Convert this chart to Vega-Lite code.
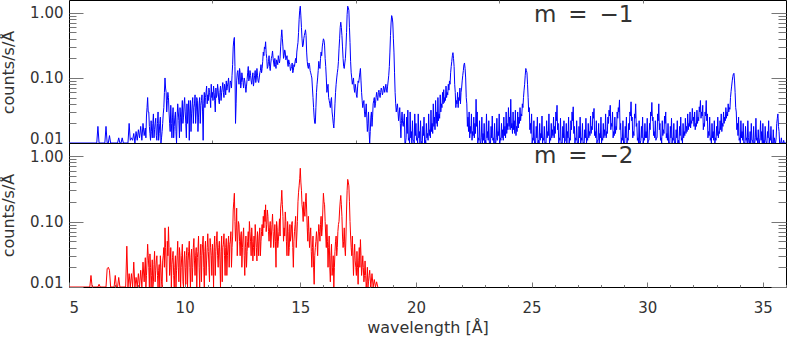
{
"$schema": "https://vega.github.io/schema/vega-lite/v6.json",
"autosize": {"type": "pad"},
"padding": {"left": -1, "top": -1, "right": 2, "bottom": 0},
"background": "white",
"config": {
  "view": {"stroke": "black", "strokeWidth": 1},
  "font": "DejaVu Sans",
  "axis": {"domain": false, "grid": false, "labelFont": "DejaVu Sans", "labelFontSize": 15, "labelColor": "#333", "tickColor": "#777", "tickWidth": 1, "titleFont": "DejaVu Sans", "titleFontSize": 16, "titleColor": "#333", "titleFontWeight": "normal"}
},
"datasets": {
"m1": [
{"wl":5,"c":0.01},{"wl":6.2,"c":0.01},{"wl":6.25,"c":0.018},{"wl":6.3,"c":0.01},{"wl":6.55,"c":0.01},{"wl":6.6,"c":0.018},{"wl":6.65,"c":0.01},{"wl":6.7,"c":0.01},{"wl":6.75,"c":0.013},{"wl":6.8,"c":0.01},{"wl":7.1,"c":0.01},{"wl":7.15,"c":0.012},{"wl":7.2,"c":0.01},{"wl":7.25,"c":0.01},{"wl":7.3,"c":0.012},{"wl":7.35,"c":0.01},{"wl":7.55,"c":0.01},
{"wl":7.6,"c":0.02},{"wl":7.65,"c":0.011},{"wl":7.7,"c":0.012},{"wl":7.75,"c":0.011},{"wl":7.8,"c":0.014},{"wl":7.85,"c":0.01},{"wl":7.9,"c":0.015},{"wl":7.95,"c":0.011},{"wl":8,"c":0.016},{"wl":8.05,"c":0.012},{"wl":8.1,"c":0.018},{"wl":8.15,"c":0.011},{"wl":8.2,"c":0.02},{"wl":8.25,"c":0.013},{"wl":8.3,"c":0.017},{"wl":8.35,"c":0.026},{"wl":8.4,"c":0.05},{"wl":8.45,"c":0.03},{"wl":8.5,"c":0.014},{"wl":8.55,"c":0.022},{"wl":8.6,"c":0.012},{"wl":8.65,"c":0.028},{"wl":8.7,"c":0.016},{"wl":8.75,"c":0.024},{"wl":8.8,"c":0.011},{"wl":8.85,"c":0.03},{"wl":8.9,"c":0.014},{"wl":8.95,"c":0.025},
{"wl":9,"c":0.012},{"wl":9.05,"c":0.02},{"wl":9.1,"c":0.035},{"wl":9.15,"c":0.1},{"wl":9.2,"c":0.06},{"wl":9.25,"c":0.045},{"wl":9.3,"c":0.05},{"wl":9.35,"c":0.02},{"wl":9.4,"c":0.038},{"wl":9.45,"c":0.012},{"wl":9.5,"c":0.035},{"wl":9.55,"c":0.018},{"wl":9.6,"c":0.03},{"wl":9.65,"c":0.01},{"wl":9.7,"c":0.04},{"wl":9.75,"c":0.022},{"wl":9.8,"c":0.035},{"wl":9.85,"c":0.015},{"wl":9.9,"c":0.045},{"wl":9.95,"c":0.025},
{"wl":10,"c":0.05},{"wl":10.05,"c":0.02},{"wl":10.1,"c":0.04},{"wl":10.15,"c":0.03},{"wl":10.2,"c":0.011},{"wl":10.25,"c":0.045},{"wl":10.3,"c":0.028},{"wl":10.35,"c":0.05},{"wl":10.4,"c":0.035},{"wl":10.45,"c":0.055},{"wl":10.5,"c":0.03},{"wl":10.55,"c":0.045},{"wl":10.6,"c":0.025},{"wl":10.65,"c":0.05},{"wl":10.7,"c":0.038},{"wl":10.75,"c":0.055},{"wl":10.8,"c":0.011},{"wl":10.85,"c":0.06},{"wl":10.9,"c":0.05},{"wl":10.95,"c":0.075},
{"wl":11,"c":0.055},{"wl":11.05,"c":0.07},{"wl":11.1,"c":0.05},{"wl":11.15,"c":0.08},{"wl":11.2,"c":0.06},{"wl":11.25,"c":0.075},{"wl":11.3,"c":0.045},{"wl":11.35,"c":0.07},{"wl":11.4,"c":0.055},{"wl":11.45,"c":0.065},{"wl":11.5,"c":0.04},{"wl":11.55,"c":0.075},{"wl":11.6,"c":0.06},{"wl":11.65,"c":0.085},{"wl":11.7,"c":0.05},{"wl":11.75,"c":0.07},{"wl":11.8,"c":0.09},{"wl":11.85,"c":0.075},{"wl":11.9,"c":0.1},{"wl":11.95,"c":0.07},
{"wl":12,"c":0.085},{"wl":12.05,"c":0.11},{"wl":12.1,"c":0.3},{"wl":12.15,"c":0.42},{"wl":12.2,"c":0.02},{"wl":12.25,"c":0.09},{"wl":12.3,"c":0.13},{"wl":12.35,"c":0.08},{"wl":12.4,"c":0.12},{"wl":12.45,"c":0.085},{"wl":12.5,"c":0.1},{"wl":12.55,"c":0.07},{"wl":12.6,"c":0.09},{"wl":12.65,"c":0.06},{"wl":12.7,"c":0.095},{"wl":12.75,"c":0.15},{"wl":12.8,"c":0.1},{"wl":12.85,"c":0.11},{"wl":12.9,"c":0.08},{"wl":12.95,"c":0.12},
{"wl":13,"c":0.09},{"wl":13.05,"c":0.13},{"wl":13.1,"c":0.1},{"wl":13.15,"c":0.11},{"wl":13.2,"c":0.085},{"wl":13.25,"c":0.12},{"wl":13.3,"c":0.16},{"wl":13.35,"c":0.14},{"wl":13.4,"c":0.25},{"wl":13.45,"c":0.3},{"wl":13.5,"c":0.36},{"wl":13.55,"c":0.2},{"wl":13.6,"c":0.15},{"wl":13.65,"c":0.22},{"wl":13.7,"c":0.13},{"wl":13.75,"c":0.2},{"wl":13.8,"c":0.26},{"wl":13.85,"c":0.17},{"wl":13.9,"c":0.2},{"wl":13.95,"c":0.14},
{"wl":14,"c":0.18},{"wl":14.05,"c":0.22},{"wl":14.1,"c":0.17},{"wl":14.15,"c":0.3},{"wl":14.2,"c":0.55},{"wl":14.25,"c":0.3},{"wl":14.3,"c":0.22},{"wl":14.35,"c":0.25},{"wl":14.4,"c":0.2},{"wl":14.45,"c":0.17},{"wl":14.5,"c":0.19},{"wl":14.55,"c":0.16},{"wl":14.6,"c":0.14},{"wl":14.65,"c":0.17},{"wl":14.7,"c":0.13},{"wl":14.75,"c":0.15},{"wl":14.8,"c":0.2},{"wl":14.85,"c":0.25},{"wl":14.9,"c":0.35},{"wl":14.95,"c":0.8},
{"wl":15,"c":1.27},{"wl":15.05,"c":0.6},{"wl":15.1,"c":0.3},{"wl":15.15,"c":0.4},{"wl":15.2,"c":0.5},{"wl":15.25,"c":0.45},{"wl":15.3,"c":0.18},{"wl":15.35,"c":0.14},{"wl":15.4,"c":0.16},{"wl":15.45,"c":0.12},{"wl":15.5,"c":0.1},{"wl":15.55,"c":0.05},{"wl":15.6,"c":0.025},{"wl":15.65,"c":0.02},{"wl":15.7,"c":0.06},{"wl":15.75,"c":0.1},{"wl":15.8,"c":0.18},{"wl":15.85,"c":0.14},{"wl":15.9,"c":0.25},{"wl":15.95,"c":0.3},
{"wl":16,"c":0.4},{"wl":16.05,"c":0.32},{"wl":16.1,"c":0.15},{"wl":16.15,"c":0.06},{"wl":16.2,"c":0.08},{"wl":16.25,"c":0.045},{"wl":16.3,"c":0.035},{"wl":16.35,"c":0.05},{"wl":16.4,"c":0.025},{"wl":16.45,"c":0.017},{"wl":16.5,"c":0.04},{"wl":16.55,"c":0.08},{"wl":16.6,"c":0.12},{"wl":16.65,"c":0.18},{"wl":16.7,"c":0.4},{"wl":16.75,"c":0.72},{"wl":16.8,"c":0.45},{"wl":16.85,"c":0.2},{"wl":16.9,"c":0.14},{"wl":16.95,"c":0.2},
{"wl":17,"c":0.5},{"wl":17.05,"c":1.27},{"wl":17.1,"c":1.1},{"wl":17.15,"c":0.35},{"wl":17.2,"c":0.12},{"wl":17.25,"c":0.08},{"wl":17.3,"c":0.1},{"wl":17.35,"c":0.06},{"wl":17.4,"c":0.07},{"wl":17.45,"c":0.05},{"wl":17.5,"c":0.09},{"wl":17.55,"c":0.1},{"wl":17.6,"c":0.14},{"wl":17.65,"c":0.06},{"wl":17.7,"c":0.035},{"wl":17.75,"c":0.045},{"wl":17.8,"c":0.025},{"wl":17.85,"c":0.04},{"wl":17.9,"c":0.015},{"wl":17.95,"c":0.03},
{"wl":18,"c":0.01},{"wl":18.05,"c":0.025},{"wl":18.1,"c":0.018},{"wl":18.15,"c":0.04},{"wl":18.2,"c":0.05},{"wl":18.25,"c":0.04},{"wl":18.3,"c":0.06},{"wl":18.35,"c":0.045},{"wl":18.4,"c":0.065},{"wl":18.45,"c":0.05},{"wl":18.5,"c":0.07},{"wl":18.55,"c":0.055},{"wl":18.6,"c":0.075},{"wl":18.65,"c":0.06},{"wl":18.7,"c":0.08},{"wl":18.75,"c":0.06},{"wl":18.8,"c":0.09},{"wl":18.85,"c":0.15},{"wl":18.9,"c":0.45},{"wl":18.95,"c":0.91},
{"wl":19,"c":0.7},{"wl":19.05,"c":0.25},{"wl":19.1,"c":0.06},{"wl":19.15,"c":0.03},{"wl":19.2,"c":0.04},{"wl":19.25,"c":0.022},{"wl":19.3,"c":0.035},{"wl":19.35,"c":0.012},{"wl":19.4,"c":0.03},{"wl":19.45,"c":0.018},{"wl":19.5,"c":0.028},{"wl":19.55,"c":0.01},{"wl":19.6,"c":0.025},{"wl":19.65,"c":0.032},{"wl":19.7,"c":0.012},{"wl":19.75,"c":0.03},{"wl":19.8,"c":0.015},{"wl":19.85,"c":0.022},{"wl":19.9,"c":0.011},{"wl":19.95,"c":0.028},
{"wl":20,"c":0.02},{"wl":20.05,"c":0.012},{"wl":20.1,"c":0.028},{"wl":20.15,"c":0.015},{"wl":20.2,"c":0.022},{"wl":20.25,"c":0.01},{"wl":20.3,"c":0.018},{"wl":20.35,"c":0.025},{"wl":20.4,"c":0.011},{"wl":20.45,"c":0.02},{"wl":20.5,"c":0.014},{"wl":20.55,"c":0.028},{"wl":20.6,"c":0.016},{"wl":20.65,"c":0.032},{"wl":20.7,"c":0.02},{"wl":20.75,"c":0.04},{"wl":20.8,"c":0.025},{"wl":20.85,"c":0.045},{"wl":20.9,"c":0.03},{"wl":20.95,"c":0.05},
{"wl":21,"c":0.028},{"wl":21.05,"c":0.055},{"wl":21.1,"c":0.04},{"wl":21.15,"c":0.06},{"wl":21.2,"c":0.066},{"wl":21.25,"c":0.05},{"wl":21.3,"c":0.075},{"wl":21.35,"c":0.06},{"wl":21.4,"c":0.08},{"wl":21.45,"c":0.09},{"wl":21.5,"c":0.12},{"wl":21.55,"c":0.18},{"wl":21.6,"c":0.245},{"wl":21.65,"c":0.15},{"wl":21.7,"c":0.06},{"wl":21.75,"c":0.045},{"wl":21.8,"c":0.06},{"wl":21.85,"c":0.05},{"wl":21.9,"c":0.07},{"wl":21.95,"c":0.06},
{"wl":22,"c":0.09},{"wl":22.05,"c":0.13},{"wl":22.1,"c":0.17},{"wl":22.15,"c":0.1},{"wl":22.2,"c":0.04},{"wl":22.25,"c":0.025},{"wl":22.3,"c":0.03},{"wl":22.35,"c":0.018},{"wl":22.4,"c":0.028},{"wl":22.45,"c":0.015},{"wl":22.5,"c":0.025},{"wl":22.55,"c":0.02},{"wl":22.6,"c":0.047},{"wl":22.65,"c":0.03},{"wl":22.7,"c":0.012},{"wl":22.75,"c":0.022},{"wl":22.8,"c":0.01},{"wl":22.85,"c":0.025},{"wl":22.9,"c":0.014},{"wl":22.95,"c":0.02},
{"wl":23,"c":0.011},{"wl":23.05,"c":0.028},{"wl":23.1,"c":0.015},{"wl":23.15,"c":0.022},{"wl":23.2,"c":0.01},{"wl":23.25,"c":0.018},{"wl":23.3,"c":0.026},{"wl":23.35,"c":0.012},{"wl":23.4,"c":0.02},{"wl":23.45,"c":0.01},{"wl":23.5,"c":0.024},{"wl":23.55,"c":0.015},{"wl":23.6,"c":0.028},{"wl":23.65,"c":0.012},{"wl":23.7,"c":0.02},{"wl":23.75,"c":0.016},{"wl":23.8,"c":0.025},{"wl":23.85,"c":0.018},{"wl":23.9,"c":0.03},{"wl":23.95,"c":0.02},
{"wl":24,"c":0.035},{"wl":24.05,"c":0.025},{"wl":24.1,"c":0.047},{"wl":24.15,"c":0.02},{"wl":24.2,"c":0.03},{"wl":24.25,"c":0.022},{"wl":24.3,"c":0.032},{"wl":24.35,"c":0.018},{"wl":24.4,"c":0.03},{"wl":24.45,"c":0.025},{"wl":24.5,"c":0.035},{"wl":24.55,"c":0.028},{"wl":24.6,"c":0.04},{"wl":24.65,"c":0.05},{"wl":24.7,"c":0.08},{"wl":24.75,"c":0.14},{"wl":24.8,"c":0.12},{"wl":24.85,"c":0.05},{"wl":24.9,"c":0.035},{"wl":24.95,"c":0.02},
{"wl":25,"c":0.028},{"wl":25.05,"c":0.012},{"wl":25.1,"c":0.022},{"wl":25.15,"c":0.01},{"wl":25.2,"c":0.018},{"wl":25.25,"c":0.025},{"wl":25.3,"c":0.011},{"wl":25.35,"c":0.02},{"wl":25.4,"c":0.014},{"wl":25.45,"c":0.026},{"wl":25.5,"c":0.012},{"wl":25.55,"c":0.018},{"wl":25.6,"c":0.01},{"wl":25.65,"c":0.022},{"wl":25.7,"c":0.015},{"wl":25.75,"c":0.028},{"wl":25.8,"c":0.012},{"wl":25.85,"c":0.02},{"wl":25.9,"c":0.016},{"wl":25.95,"c":0.025},
{"wl":26,"c":0.018},{"wl":26.05,"c":0.03},{"wl":26.1,"c":0.038},{"wl":26.15,"c":0.02},{"wl":26.2,"c":0.012},{"wl":26.25,"c":0.024},{"wl":26.3,"c":0.01},{"wl":26.35,"c":0.018},{"wl":26.4,"c":0.022},{"wl":26.45,"c":0.011},{"wl":26.5,"c":0.02},{"wl":26.55,"c":0.015},{"wl":26.6,"c":0.025},{"wl":26.65,"c":0.012},{"wl":26.7,"c":0.022},{"wl":26.75,"c":0.03},{"wl":26.8,"c":0.036},{"wl":26.85,"c":0.018},{"wl":26.9,"c":0.012},{"wl":26.95,"c":0.022},
{"wl":27,"c":0.01},{"wl":27.05,"c":0.018},{"wl":27.1,"c":0.025},{"wl":27.15,"c":0.012},{"wl":27.2,"c":0.02},{"wl":27.25,"c":0.01},{"wl":27.3,"c":0.016},{"wl":27.35,"c":0.024},{"wl":27.4,"c":0.012},{"wl":27.45,"c":0.02},{"wl":27.5,"c":0.015},{"wl":27.55,"c":0.026},{"wl":27.6,"c":0.018},{"wl":27.65,"c":0.03},{"wl":27.7,"c":0.034},{"wl":27.75,"c":0.015},{"wl":27.8,"c":0.022},{"wl":27.85,"c":0.011},{"wl":27.9,"c":0.02},{"wl":27.95,"c":0.014},
{"wl":28,"c":0.025},{"wl":28.05,"c":0.012},{"wl":28.1,"c":0.02},{"wl":28.15,"c":0.016},{"wl":28.2,"c":0.028},{"wl":28.25,"c":0.015},{"wl":28.3,"c":0.025},{"wl":28.35,"c":0.032},{"wl":28.4,"c":0.038},{"wl":28.45,"c":0.02},{"wl":28.5,"c":0.03},{"wl":28.55,"c":0.015},{"wl":28.6,"c":0.025},{"wl":28.65,"c":0.018},{"wl":28.7,"c":0.03},{"wl":28.75,"c":0.035},{"wl":28.8,"c":0.046},{"wl":28.85,"c":0.02},{"wl":28.9,"c":0.012},{"wl":28.95,"c":0.022},
{"wl":29,"c":0.01},{"wl":29.05,"c":0.018},{"wl":29.1,"c":0.025},{"wl":29.15,"c":0.012},{"wl":29.2,"c":0.02},{"wl":29.25,"c":0.03},{"wl":29.3,"c":0.043},{"wl":29.35,"c":0.025},{"wl":29.4,"c":0.015},{"wl":29.45,"c":0.028},{"wl":29.5,"c":0.04},{"wl":29.55,"c":0.02},{"wl":29.6,"c":0.012},{"wl":29.65,"c":0.022},{"wl":29.7,"c":0.01},{"wl":29.75,"c":0.018},{"wl":29.8,"c":0.025},{"wl":29.85,"c":0.012},{"wl":29.9,"c":0.02},{"wl":29.95,"c":0.015},
{"wl":30,"c":0.024},{"wl":30.05,"c":0.011},{"wl":30.1,"c":0.02},{"wl":30.15,"c":0.03},{"wl":30.2,"c":0.042},{"wl":30.25,"c":0.025},{"wl":30.3,"c":0.015},{"wl":30.35,"c":0.022},{"wl":30.4,"c":0.012},{"wl":30.45,"c":0.028},{"wl":30.5,"c":0.04},{"wl":30.55,"c":0.02},{"wl":30.6,"c":0.012},{"wl":30.65,"c":0.022},{"wl":30.7,"c":0.016},{"wl":30.75,"c":0.026},{"wl":30.8,"c":0.03},{"wl":30.85,"c":0.014},{"wl":30.9,"c":0.02},{"wl":30.95,"c":0.01},
{"wl":31,"c":0.018},{"wl":31.05,"c":0.024},{"wl":31.1,"c":0.012},{"wl":31.15,"c":0.02},{"wl":31.2,"c":0.01},{"wl":31.25,"c":0.016},{"wl":31.3,"c":0.022},{"wl":31.35,"c":0.011},{"wl":31.4,"c":0.018},{"wl":31.45,"c":0.025},{"wl":31.5,"c":0.012},{"wl":31.55,"c":0.02},{"wl":31.6,"c":0.015},{"wl":31.65,"c":0.024},{"wl":31.7,"c":0.018},{"wl":31.75,"c":0.028},{"wl":31.8,"c":0.02},{"wl":31.85,"c":0.03},{"wl":31.9,"c":0.022},{"wl":31.95,"c":0.034},
{"wl":32,"c":0.025},{"wl":32.05,"c":0.03},{"wl":32.1,"c":0.02},{"wl":32.15,"c":0.032},{"wl":32.2,"c":0.025},{"wl":32.25,"c":0.036},{"wl":32.3,"c":0.045},{"wl":32.35,"c":0.03},{"wl":32.4,"c":0.038},{"wl":32.45,"c":0.02},{"wl":32.5,"c":0.03},{"wl":32.55,"c":0.045},{"wl":32.6,"c":0.028},{"wl":32.65,"c":0.015},{"wl":32.7,"c":0.025},{"wl":32.75,"c":0.012},{"wl":32.8,"c":0.02},{"wl":32.85,"c":0.015},{"wl":32.9,"c":0.022},{"wl":32.95,"c":0.012},
{"wl":33,"c":0.018},{"wl":33.05,"c":0.025},{"wl":33.1,"c":0.015},{"wl":33.15,"c":0.022},{"wl":33.2,"c":0.028},{"wl":33.25,"c":0.02},{"wl":33.3,"c":0.03},{"wl":33.35,"c":0.025},{"wl":33.4,"c":0.035},{"wl":33.45,"c":0.03},{"wl":33.5,"c":0.04},{"wl":33.55,"c":0.035},{"wl":33.6,"c":0.05},{"wl":33.65,"c":0.075},{"wl":33.7,"c":0.105},{"wl":33.75,"c":0.118},{"wl":33.8,"c":0.06},{"wl":33.85,"c":0.03},{"wl":33.9,"c":0.02},{"wl":33.95,"c":0.025},
{"wl":34,"c":0.012},{"wl":34.05,"c":0.022},{"wl":34.1,"c":0.015},{"wl":34.15,"c":0.02},{"wl":34.2,"c":0.01},{"wl":34.25,"c":0.018},{"wl":34.3,"c":0.012},{"wl":34.35,"c":0.022},{"wl":34.4,"c":0.01},{"wl":34.45,"c":0.015},{"wl":34.5,"c":0.02},{"wl":34.55,"c":0.011},{"wl":34.6,"c":0.018},{"wl":34.65,"c":0.01},{"wl":34.7,"c":0.024},{"wl":34.75,"c":0.012},{"wl":34.8,"c":0.016},{"wl":34.85,"c":0.01},{"wl":34.9,"c":0.022},{"wl":34.95,"c":0.015},
{"wl":35,"c":0.02},{"wl":35.05,"c":0.011},{"wl":35.1,"c":0.018},{"wl":35.15,"c":0.01},{"wl":35.2,"c":0.015},{"wl":35.25,"c":0.022},{"wl":35.3,"c":0.012},{"wl":35.35,"c":0.018},{"wl":35.4,"c":0.01},{"wl":35.45,"c":0.016},{"wl":35.5,"c":0.012},{"wl":35.55,"c":0.01},{"wl":35.6,"c":0.02},{"wl":35.65,"c":0.028},{"wl":35.7,"c":0.015},{"wl":35.75,"c":0.01},{"wl":35.8,"c":0.012},{"wl":35.85,"c":0.01},{"wl":35.9,"c":0.011},{"wl":36,"c":0.01},
{"wl":8.325,"c":0.012},{"wl":8.375,"c":0.035},{"wl":8.425,"c":0.03},{"wl":8.475,"c":0.018},{"wl":8.525,"c":0.011},{"wl":8.575,"c":0.015},{"wl":8.625,"c":0.02},{"wl":8.675,"c":0.012},{"wl":8.725,"c":0.02},{"wl":8.775,"c":0.013},{"wl":8.825,"c":0.02},{"wl":8.875,"c":0.011},{"wl":8.925,"c":0.02},{"wl":8.975,"c":0.01},
{"wl":9.025,"c":0.015},{"wl":9.075,"c":0.028},{"wl":9.125,"c":0.06},{"wl":9.175,"c":0.07},{"wl":9.225,"c":0.03},{"wl":9.275,"c":0.06},{"wl":9.325,"c":0.03},{"wl":9.375,"c":0.015},{"wl":9.425,"c":0.02},{"wl":9.475,"c":0.025},{"wl":9.525,"c":0.012},{"wl":9.575,"c":0.025},{"wl":9.625,"c":0.015},{"wl":9.675,"c":0.025},{"wl":9.725,"c":0.03},{"wl":9.775,"c":0.012},{"wl":9.825,"c":0.025},{"wl":9.875,"c":0.03},{"wl":9.925,"c":0.02},{"wl":9.975,"c":0.04},
{"wl":10.025,"c":0.03},{"wl":10.075,"c":0.012},{"wl":10.125,"c":0.02},{"wl":10.175,"c":0.045},{"wl":10.225,"c":0.03},{"wl":10.275,"c":0.015},{"wl":10.325,"c":0.04},{"wl":10.375,"c":0.02},{"wl":10.425,"c":0.04},{"wl":10.475,"c":0.02},{"wl":10.525,"c":0.05},{"wl":10.575,"c":0.015},{"wl":10.625,"c":0.04},{"wl":10.675,"c":0.02},{"wl":10.725,"c":0.045},{"wl":10.775,"c":0.03},{"wl":10.825,"c":0.04},{"wl":10.875,"c":0.035},{"wl":10.925,"c":0.06},{"wl":10.975,"c":0.04},
{"wl":11.025,"c":0.045},{"wl":11.075,"c":0.06},{"wl":11.125,"c":0.035},{"wl":11.175,"c":0.05},{"wl":11.225,"c":0.045},{"wl":11.275,"c":0.06},{"wl":11.325,"c":0.03},{"wl":11.375,"c":0.05},{"wl":11.425,"c":0.08},{"wl":11.475,"c":0.045},{"wl":11.525,"c":0.06},{"wl":11.575,"c":0.045},{"wl":11.625,"c":0.07},{"wl":11.675,"c":0.06},{"wl":11.725,"c":0.08},{"wl":11.775,"c":0.055},{"wl":11.825,"c":0.065},{"wl":11.875,"c":0.085},{"wl":11.925,"c":0.06},{"wl":11.975,"c":0.09},
{"wl":12.025,"c":0.07},{"wl":12.075,"c":0.16},{"wl":12.125,"c":0.38},{"wl":12.175,"c":0.15},{"wl":12.225,"c":0.04},{"wl":12.275,"c":0.12},{"wl":12.325,"c":0.1},{"wl":12.375,"c":0.14},{"wl":12.425,"c":0.07},{"wl":12.475,"c":0.12},{"wl":12.525,"c":0.085},{"wl":12.575,"c":0.1},{"wl":12.625,"c":0.075},{"wl":12.675,"c":0.075},{"wl":12.725,"c":0.12},{"wl":12.775,"c":0.09},{"wl":12.825,"c":0.13},{"wl":12.875,"c":0.09},{"wl":12.925,"c":0.1},{"wl":12.975,"c":0.075},
{"wl":13.025,"c":0.11},{"wl":13.075,"c":0.085},{"wl":13.125,"c":0.14},{"wl":13.175,"c":0.09},{"wl":13.225,"c":0.1},{"wl":13.275,"c":0.13},{"wl":13.325,"c":0.12},{"wl":13.375,"c":0.18},{"wl":13.425,"c":0.22},{"wl":13.475,"c":0.28},{"wl":13.525,"c":0.24},{"wl":13.575,"c":0.14},{"wl":13.625,"c":0.18},{"wl":13.675,"c":0.15},{"wl":13.725,"c":0.17},{"wl":13.775,"c":0.22},{"wl":13.825,"c":0.2},{"wl":13.875,"c":0.15},{"wl":13.925,"c":0.16},{"wl":13.975,"c":0.19},
{"wl":14.025,"c":0.16},{"wl":14.075,"c":0.19},{"wl":14.125,"c":0.2},{"wl":14.175,"c":0.42},{"wl":14.225,"c":0.4},{"wl":14.275,"c":0.2},{"wl":14.325,"c":0.27},{"wl":14.375,"c":0.19},{"wl":14.425,"c":0.22},{"wl":14.475,"c":0.15},{"wl":14.525,"c":0.17},{"wl":14.575,"c":0.13},{"wl":14.625,"c":0.15},{"wl":14.675,"c":0.12},{"wl":14.725,"c":0.16},{"wl":14.775,"c":0.18},{"wl":14.825,"c":0.17},{"wl":14.875,"c":0.3},{"wl":14.925,"c":0.5},{"wl":14.975,"c":1.1},
{"wl":15.025,"c":0.9},{"wl":15.075,"c":0.4},{"wl":15.125,"c":0.32},{"wl":15.175,"c":0.45},{"wl":15.225,"c":0.55},{"wl":15.275,"c":0.25},{"wl":15.325,"c":0.15},{"wl":15.375,"c":0.17},{"wl":15.425,"c":0.13},{"wl":15.475,"c":0.11},{"wl":15.525,"c":0.07},{"wl":15.575,"c":0.035},{"wl":15.625,"c":0.02},{"wl":15.675,"c":0.035},{"wl":15.725,"c":0.08},{"wl":15.775,"c":0.13},{"wl":15.825,"c":0.15},{"wl":15.875,"c":0.2},{"wl":15.925,"c":0.22},{"wl":15.975,"c":0.35},
{"wl":16.025,"c":0.38},{"wl":16.075,"c":0.2},{"wl":16.125,"c":0.1},{"wl":16.175,"c":0.07},{"wl":16.225,"c":0.05},{"wl":16.275,"c":0.04},{"wl":16.325,"c":0.045},{"wl":16.375,"c":0.03},{"wl":16.425,"c":0.02},{"wl":16.475,"c":0.025},{"wl":16.525,"c":0.06},{"wl":16.575,"c":0.1},{"wl":16.625,"c":0.14},{"wl":16.675,"c":0.28},{"wl":16.725,"c":0.6},{"wl":16.775,"c":0.6},{"wl":16.825,"c":0.3},{"wl":16.875,"c":0.15},{"wl":16.925,"c":0.17},{"wl":16.975,"c":0.3},
{"wl":17.025,"c":0.95},{"wl":17.075,"c":1.2},{"wl":17.125,"c":0.6},{"wl":17.175,"c":0.18},{"wl":17.225,"c":0.1},{"wl":17.275,"c":0.09},{"wl":17.325,"c":0.07},{"wl":17.375,"c":0.08},{"wl":17.425,"c":0.055},{"wl":17.475,"c":0.07},{"wl":17.525,"c":0.085},{"wl":17.575,"c":0.12},{"wl":17.625,"c":0.09},{"wl":17.675,"c":0.045},{"wl":17.725,"c":0.04},{"wl":17.775,"c":0.03},{"wl":17.825,"c":0.03},{"wl":17.875,"c":0.025},{"wl":17.925,"c":0.02},{"wl":17.975,"c":0.015},
{"wl":18.025,"c":0.015},{"wl":18.075,"c":0.03},{"wl":18.125,"c":0.025},{"wl":18.175,"c":0.045},{"wl":18.225,"c":0.035},{"wl":18.275,"c":0.05},{"wl":18.325,"c":0.05},{"wl":18.375,"c":0.06},{"wl":18.425,"c":0.055},{"wl":18.475,"c":0.06},{"wl":18.525,"c":0.065},{"wl":18.575,"c":0.06},{"wl":18.625,"c":0.07},{"wl":18.675,"c":0.07},{"wl":18.725,"c":0.065},{"wl":18.775,"c":0.075},{"wl":18.825,"c":0.11},{"wl":18.875,"c":0.25},{"wl":18.925,"c":0.7},{"wl":18.975,"c":0.85},
{"wl":19.025,"c":0.4},{"wl":19.075,"c":0.12},{"wl":19.125,"c":0.04},{"wl":19.175,"c":0.035},{"wl":19.225,"c":0.03},{"wl":19.275,"c":0.028},{"wl":19.325,"c":0.02},{"wl":19.375,"c":0.022},{"wl":19.425,"c":0.02},{"wl":19.475,"c":0.022},
{"wl":19.525,"c":0.01},{"wl":19.575,"c":0.012},{"wl":19.625,"c":0.014},{"wl":19.675,"c":0.011},{"wl":19.725,"c":0.01},{"wl":19.775,"c":0.012},{"wl":19.825,"c":0.01},{"wl":19.875,"c":0.011},{"wl":19.925,"c":0.01},{"wl":19.975,"c":0.013},
{"wl":20.025,"c":0.011},{"wl":20.075,"c":0.01},{"wl":20.125,"c":0.012},{"wl":20.175,"c":0.01},{"wl":20.225,"c":0.011},{"wl":20.275,"c":0.01},{"wl":20.325,"c":0.013},{"wl":20.375,"c":0.01},{"wl":20.425,"c":0.01},{"wl":20.475,"c":0.012},{"wl":20.525,"c":0.011},{"wl":20.575,"c":0.013},{"wl":20.625,"c":0.012},{"wl":20.675,"c":0.015},{"wl":20.725,"c":0.014},{"wl":20.775,"c":0.018},{"wl":20.825,"c":0.016},{"wl":20.875,"c":0.02},{"wl":20.925,"c":0.018},{"wl":20.975,"c":0.022},
{"wl":21.025,"c":0.024},{"wl":21.075,"c":0.03},{"wl":21.125,"c":0.035},{"wl":21.175,"c":0.04},{"wl":21.225,"c":0.042},{"wl":21.275,"c":0.045},{"wl":21.325,"c":0.05},{"wl":21.375,"c":0.055},{"wl":21.425,"c":0.065},{"wl":21.475,"c":0.08},{"wl":21.525,"c":0.15},{"wl":21.575,"c":0.22},{"wl":21.625,"c":0.2},{"wl":21.675,"c":0.08},{"wl":21.725,"c":0.035},{"wl":21.775,"c":0.04},{"wl":21.825,"c":0.035},{"wl":21.875,"c":0.045},{"wl":21.925,"c":0.04},{"wl":21.975,"c":0.07},
{"wl":22.025,"c":0.11},{"wl":22.075,"c":0.16},{"wl":22.125,"c":0.14},{"wl":22.175,"c":0.05},{"wl":22.225,"c":0.018},{"wl":22.275,"c":0.015},{"wl":22.325,"c":0.012},{"wl":22.375,"c":0.014},{"wl":22.425,"c":0.011},{"wl":22.475,"c":0.013},{"wl":22.525,"c":0.012},{"wl":22.575,"c":0.014},{"wl":22.625,"c":0.018},{"wl":22.675,"c":0.01},{"wl":22.725,"c":0.011},{"wl":22.775,"c":0.01},{"wl":22.825,"c":0.012},{"wl":22.875,"c":0.01},{"wl":22.925,"c":0.011},{"wl":22.975,"c":0.01},
{"wl":23.025,"c":0.01},{"wl":23.075,"c":0.012},{"wl":23.125,"c":0.011},{"wl":23.175,"c":0.01},{"wl":23.225,"c":0.01},{"wl":23.275,"c":0.012},{"wl":23.325,"c":0.011},{"wl":23.375,"c":0.01},{"wl":23.425,"c":0.01},{"wl":23.475,"c":0.012},{"wl":23.525,"c":0.011},{"wl":23.575,"c":0.013},{"wl":23.625,"c":0.01},{"wl":23.675,"c":0.011},{"wl":23.725,"c":0.012},{"wl":23.775,"c":0.011},{"wl":23.825,"c":0.013},{"wl":23.875,"c":0.012},{"wl":23.925,"c":0.014},{"wl":23.975,"c":0.016},
{"wl":24.025,"c":0.018},{"wl":24.075,"c":0.016},{"wl":24.125,"c":0.017},{"wl":24.175,"c":0.014},{"wl":24.225,"c":0.016},{"wl":24.275,"c":0.014},{"wl":24.325,"c":0.013},{"wl":24.375,"c":0.015},{"wl":24.425,"c":0.017},{"wl":24.475,"c":0.02},{"wl":24.525,"c":0.022},{"wl":24.575,"c":0.026},{"wl":24.625,"c":0.035},{"wl":24.675,"c":0.065},{"wl":24.725,"c":0.11},{"wl":24.775,"c":0.13},{"wl":24.825,"c":0.08},{"wl":24.875,"c":0.03},{"wl":24.925,"c":0.016},{"wl":24.975,"c":0.014},
{"wl":25.025,"c":0.01},{"wl":25.075,"c":0.011},{"wl":25.125,"c":0.01},{"wl":25.175,"c":0.01},{"wl":25.225,"c":0.012},{"wl":25.275,"c":0.01},{"wl":25.325,"c":0.01},{"wl":25.375,"c":0.011},{"wl":25.425,"c":0.012},{"wl":25.475,"c":0.01},{"wl":25.525,"c":0.011},{"wl":25.575,"c":0.01},{"wl":25.625,"c":0.01},{"wl":25.675,"c":0.012},{"wl":25.725,"c":0.013},{"wl":25.775,"c":0.01},{"wl":25.825,"c":0.011},{"wl":25.875,"c":0.012},{"wl":25.925,"c":0.013},{"wl":25.975,"c":0.012},
{"wl":26.025,"c":0.014},{"wl":26.075,"c":0.022},{"wl":26.125,"c":0.016},{"wl":26.175,"c":0.01},{"wl":26.225,"c":0.011},{"wl":26.275,"c":0.01},{"wl":26.325,"c":0.01},{"wl":26.375,"c":0.012},{"wl":26.425,"c":0.01},{"wl":26.475,"c":0.011},{"wl":26.525,"c":0.01},{"wl":26.575,"c":0.012},{"wl":26.625,"c":0.01},{"wl":26.675,"c":0.011},{"wl":26.725,"c":0.016},{"wl":26.775,"c":0.022},{"wl":26.825,"c":0.014},{"wl":26.875,"c":0.01},{"wl":26.925,"c":0.011},{"wl":26.975,"c":0.01},
{"wl":27.025,"c":0.01},{"wl":27.075,"c":0.012},{"wl":27.125,"c":0.01},{"wl":27.175,"c":0.011},{"wl":27.225,"c":0.01},{"wl":27.275,"c":0.01},{"wl":27.325,"c":0.012},{"wl":27.375,"c":0.01},{"wl":27.425,"c":0.011},{"wl":27.475,"c":0.012},{"wl":27.525,"c":0.013},{"wl":27.575,"c":0.014},{"wl":27.625,"c":0.016},{"wl":27.675,"c":0.024},{"wl":27.725,"c":0.013},{"wl":27.775,"c":0.012},{"wl":27.825,"c":0.01},{"wl":27.875,"c":0.011},{"wl":27.925,"c":0.01},{"wl":27.975,"c":0.012},
{"wl":28.025,"c":0.01},{"wl":28.075,"c":0.011},{"wl":28.125,"c":0.012},{"wl":28.175,"c":0.013},{"wl":28.225,"c":0.012},{"wl":28.275,"c":0.014},{"wl":28.325,"c":0.02},{"wl":28.375,"c":0.026},{"wl":28.425,"c":0.016},{"wl":28.475,"c":0.018},{"wl":28.525,"c":0.012},{"wl":28.575,"c":0.013},{"wl":28.625,"c":0.014},{"wl":28.675,"c":0.016},{"wl":28.725,"c":0.024},{"wl":28.775,"c":0.03},{"wl":28.825,"c":0.016},{"wl":28.875,"c":0.01},{"wl":28.925,"c":0.011},{"wl":28.975,"c":0.01},
{"wl":29.025,"c":0.01},{"wl":29.075,"c":0.012},{"wl":29.125,"c":0.01},{"wl":29.175,"c":0.011},{"wl":29.225,"c":0.016},{"wl":29.275,"c":0.026},{"wl":29.325,"c":0.022},{"wl":29.375,"c":0.012},{"wl":29.425,"c":0.013},{"wl":29.475,"c":0.024},{"wl":29.525,"c":0.018},{"wl":29.575,"c":0.011},{"wl":29.625,"c":0.01},{"wl":29.675,"c":0.01},{"wl":29.725,"c":0.011},{"wl":29.775,"c":0.012},{"wl":29.825,"c":0.01},{"wl":29.875,"c":0.011},{"wl":29.925,"c":0.012},{"wl":29.975,"c":0.012},
{"wl":30.025,"c":0.01},{"wl":30.075,"c":0.011},{"wl":30.125,"c":0.016},{"wl":30.175,"c":0.026},{"wl":30.225,"c":0.022},{"wl":30.275,"c":0.013},{"wl":30.325,"c":0.012},{"wl":30.375,"c":0.011},{"wl":30.425,"c":0.012},{"wl":30.475,"c":0.022},{"wl":30.525,"c":0.016},{"wl":30.575,"c":0.011},{"wl":30.625,"c":0.01},{"wl":30.675,"c":0.013},{"wl":30.725,"c":0.014},{"wl":30.775,"c":0.02},{"wl":30.825,"c":0.012},{"wl":30.875,"c":0.011},{"wl":30.925,"c":0.01},{"wl":30.975,"c":0.01},
{"wl":31.025,"c":0.012},{"wl":31.075,"c":0.01},{"wl":31.125,"c":0.011},{"wl":31.175,"c":0.01},{"wl":31.225,"c":0.01},{"wl":31.275,"c":0.012},{"wl":31.325,"c":0.01},{"wl":31.375,"c":0.01},{"wl":31.425,"c":0.013},{"wl":31.475,"c":0.011},{"wl":31.525,"c":0.01},{"wl":31.575,"c":0.012},{"wl":31.625,"c":0.013},{"wl":31.675,"c":0.014},{"wl":31.725,"c":0.015},{"wl":31.775,"c":0.016},{"wl":31.825,"c":0.018},{"wl":31.875,"c":0.017},{"wl":31.925,"c":0.02},{"wl":31.975,"c":0.022},
{"wl":32.025,"c":0.018},{"wl":32.075,"c":0.016},{"wl":32.125,"c":0.018},{"wl":32.175,"c":0.02},{"wl":32.225,"c":0.022},{"wl":32.275,"c":0.03},{"wl":32.325,"c":0.024},{"wl":32.375,"c":0.026},{"wl":32.425,"c":0.016},{"wl":32.475,"c":0.018},{"wl":32.525,"c":0.026},{"wl":32.575,"c":0.022},{"wl":32.625,"c":0.012},{"wl":32.675,"c":0.013},{"wl":32.725,"c":0.011},{"wl":32.775,"c":0.01},{"wl":32.825,"c":0.012},{"wl":32.875,"c":0.011},{"wl":32.925,"c":0.01},{"wl":32.975,"c":0.011},
{"wl":33.025,"c":0.013},{"wl":33.075,"c":0.012},{"wl":33.125,"c":0.014},{"wl":33.175,"c":0.016},{"wl":33.225,"c":0.015},{"wl":33.275,"c":0.018},{"wl":33.325,"c":0.02},{"wl":33.375,"c":0.022},{"wl":33.425,"c":0.024},{"wl":33.475,"c":0.026},{"wl":33.525,"c":0.03},{"wl":33.575,"c":0.033},{"wl":33.625,"c":0.062},{"wl":33.675,"c":0.09},{"wl":33.725,"c":0.115},{"wl":33.775,"c":0.09},{"wl":33.825,"c":0.035},{"wl":33.875,"c":0.016},{"wl":33.925,"c":0.013},{"wl":33.975,"c":0.011},
{"wl":34.025,"c":0.01},{"wl":34.075,"c":0.012},{"wl":34.125,"c":0.011},{"wl":34.175,"c":0.01},{"wl":34.225,"c":0.01},{"wl":34.275,"c":0.011},{"wl":34.325,"c":0.01},{"wl":34.375,"c":0.012},{"wl":34.425,"c":0.01},{"wl":34.475,"c":0.01},{"wl":34.525,"c":0.011},{"wl":34.575,"c":0.01},{"wl":34.625,"c":0.01},{"wl":34.675,"c":0.012},{"wl":34.725,"c":0.011},{"wl":34.775,"c":0.01},{"wl":34.825,"c":0.01},{"wl":34.875,"c":0.012},{"wl":34.925,"c":0.011},{"wl":34.975,"c":0.01},
{"wl":35.025,"c":0.01},{"wl":35.075,"c":0.01},{"wl":35.125,"c":0.011},{"wl":35.175,"c":0.01},{"wl":35.225,"c":0.012},{"wl":35.275,"c":0.01},{"wl":35.325,"c":0.011},{"wl":35.375,"c":0.01},{"wl":35.425,"c":0.01},{"wl":35.475,"c":0.01},{"wl":35.525,"c":0.01},{"wl":35.575,"c":0.012},{"wl":35.625,"c":0.024},{"wl":35.675,"c":0.018},{"wl":35.725,"c":0.01},{"wl":35.775,"c":0.01},{"wl":35.825,"c":0.01},{"wl":35.875,"c":0.01},{"wl":35.925,"c":0.01}
],
"m2": [
{"wl":5,"c":0.01},{"wl":5.9,"c":0.01},{"wl":5.95,"c":0.015},{"wl":6,"c":0.01},{"wl":6.25,"c":0.01},{"wl":6.3,"c":0.011},{"wl":6.35,"c":0.01},{"wl":6.6,"c":0.01},{"wl":6.65,"c":0.019},{"wl":6.7,"c":0.02},{"wl":6.75,"c":0.018},{"wl":6.8,"c":0.01},{"wl":6.95,"c":0.01},{"wl":7,"c":0.015},{"wl":7.05,"c":0.01},{"wl":7.1,"c":0.01},{"wl":7.15,"c":0.014},{"wl":7.2,"c":0.01},{"wl":7.45,"c":0.01},{"wl":7.5,"c":0.042},{"wl":7.55,"c":0.01},{"wl":7.6,"c":0.016},{"wl":7.65,"c":0.01},{"wl":7.7,"c":0.016},{"wl":7.75,"c":0.01},{"wl":7.8,"c":0.024},{"wl":7.85,"c":0.01},{"wl":7.9,"c":0.014},{"wl":7.95,"c":0.01},
{"wl":8,"c":0.016},{"wl":8.05,"c":0.01},{"wl":8.1,"c":0.018},{"wl":8.15,"c":0.01},{"wl":8.2,"c":0.024},{"wl":8.25,"c":0.012},{"wl":8.3,"c":0.028},{"wl":8.35,"c":0.015},{"wl":8.4,"c":0.045},{"wl":8.45,"c":0.02},{"wl":8.5,"c":0.032},{"wl":8.55,"c":0.01},{"wl":8.6,"c":0.026},{"wl":8.65,"c":0.012},{"wl":8.7,"c":0.035},{"wl":8.75,"c":0.018},{"wl":8.8,"c":0.03},{"wl":8.85,"c":0.01},{"wl":8.9,"c":0.022},{"wl":8.95,"c":0.03},
{"wl":9,"c":0.012},{"wl":9.05,"c":0.025},{"wl":9.1,"c":0.04},{"wl":9.15,"c":0.08},{"wl":9.2,"c":0.02},{"wl":9.25,"c":0.05},{"wl":9.3,"c":0.083},{"wl":9.35,"c":0.015},{"wl":9.4,"c":0.04},{"wl":9.45,"c":0.022},{"wl":9.5,"c":0.035},{"wl":9.55,"c":0.01},{"wl":9.6,"c":0.03},{"wl":9.65,"c":0.018},{"wl":9.7,"c":0.05},{"wl":9.75,"c":0.012},{"wl":9.8,"c":0.03},{"wl":9.85,"c":0.02},{"wl":9.9,"c":0.045},{"wl":9.95,"c":0.01},
{"wl":10,"c":0.035},{"wl":10.05,"c":0.011},{"wl":10.1,"c":0.04},{"wl":10.15,"c":0.025},{"wl":10.2,"c":0.05},{"wl":10.25,"c":0.01},{"wl":10.3,"c":0.038},{"wl":10.35,"c":0.02},{"wl":10.4,"c":0.055},{"wl":10.45,"c":0.015},{"wl":10.5,"c":0.04},{"wl":10.55,"c":0.028},{"wl":10.6,"c":0.06},{"wl":10.65,"c":0.01},{"wl":10.7,"c":0.045},{"wl":10.75,"c":0.03},{"wl":10.8,"c":0.06},{"wl":10.85,"c":0.01},{"wl":10.9,"c":0.05},{"wl":10.95,"c":0.025},
{"wl":11,"c":0.065},{"wl":11.05,"c":0.02},{"wl":11.1,"c":0.055},{"wl":11.15,"c":0.03},{"wl":11.2,"c":0.045},{"wl":11.25,"c":0.01},{"wl":11.3,"c":0.06},{"wl":11.35,"c":0.035},{"wl":11.4,"c":0.07},{"wl":11.45,"c":0.02},{"wl":11.5,"c":0.05},{"wl":11.55,"c":0.01},{"wl":11.6,"c":0.06},{"wl":11.65,"c":0.04},{"wl":11.7,"c":0.065},{"wl":11.75,"c":0.015},{"wl":11.8,"c":0.055},{"wl":11.85,"c":0.03},{"wl":11.9,"c":0.06},{"wl":11.95,"c":0.045},
{"wl":12,"c":0.07},{"wl":12.05,"c":0.04},{"wl":12.1,"c":0.15},{"wl":12.15,"c":0.27},{"wl":12.2,"c":0.05},{"wl":12.25,"c":0.16},{"wl":12.3,"c":0.06},{"wl":12.35,"c":0.09},{"wl":12.4,"c":0.03},{"wl":12.45,"c":0.07},{"wl":12.5,"c":0.04},{"wl":12.55,"c":0.08},{"wl":12.6,"c":0.015},{"wl":12.65,"c":0.06},{"wl":12.7,"c":0.035},{"wl":12.75,"c":0.07},{"wl":12.8,"c":0.1},{"wl":12.85,"c":0.05},{"wl":12.9,"c":0.08},{"wl":12.95,"c":0.025},
{"wl":13,"c":0.06},{"wl":13.05,"c":0.09},{"wl":13.1,"c":0.04},{"wl":13.15,"c":0.07},{"wl":13.2,"c":0.03},{"wl":13.25,"c":0.08},{"wl":13.3,"c":0.05},{"wl":13.35,"c":0.09},{"wl":13.4,"c":0.12},{"wl":13.45,"c":0.15},{"wl":13.5,"c":0.18},{"wl":13.55,"c":0.09},{"wl":13.6,"c":0.12},{"wl":13.65,"c":0.05},{"wl":13.7,"c":0.1},{"wl":13.75,"c":0.06},{"wl":13.8,"c":0.13},{"wl":13.85,"c":0.04},{"wl":13.9,"c":0.09},{"wl":13.95,"c":0.02},
{"wl":14,"c":0.08},{"wl":14.05,"c":0.05},{"wl":14.1,"c":0.11},{"wl":14.15,"c":0.16},{"wl":14.2,"c":0.3},{"wl":14.25,"c":0.12},{"wl":14.3,"c":0.08},{"wl":14.35,"c":0.14},{"wl":14.4,"c":0.05},{"wl":14.45,"c":0.1},{"wl":14.5,"c":0.03},{"wl":14.55,"c":0.09},{"wl":14.6,"c":0.06},{"wl":14.65,"c":0.1},{"wl":14.7,"c":0.02},{"wl":14.75,"c":0.07},{"wl":14.8,"c":0.12},{"wl":14.85,"c":0.06},{"wl":14.9,"c":0.2},{"wl":14.95,"c":0.35},
{"wl":15,"c":0.65},{"wl":15.05,"c":0.3},{"wl":15.1,"c":0.15},{"wl":15.15,"c":0.2},{"wl":15.2,"c":0.12},{"wl":15.25,"c":0.27},{"wl":15.3,"c":0.08},{"wl":15.35,"c":0.12},{"wl":15.4,"c":0.04},{"wl":15.45,"c":0.08},{"wl":15.5,"c":0.02},{"wl":15.55,"c":0.06},{"wl":15.6,"c":0.011},{"wl":15.65,"c":0.04},{"wl":15.7,"c":0.07},{"wl":15.75,"c":0.03},{"wl":15.8,"c":0.09},{"wl":15.85,"c":0.05},{"wl":15.9,"c":0.12},{"wl":15.95,"c":0.08},
{"wl":16,"c":0.27},{"wl":16.05,"c":0.18},{"wl":16.1,"c":0.06},{"wl":16.15,"c":0.09},{"wl":16.2,"c":0.02},{"wl":16.25,"c":0.06},{"wl":16.3,"c":0.012},{"wl":16.35,"c":0.045},{"wl":16.4,"c":0.02},{"wl":16.45,"c":0.01},{"wl":16.5,"c":0.035},{"wl":16.55,"c":0.06},{"wl":16.6,"c":0.04},{"wl":16.65,"c":0.09},{"wl":16.7,"c":0.15},{"wl":16.75,"c":0.25},{"wl":16.8,"c":0.12},{"wl":16.85,"c":0.04},{"wl":16.9,"c":0.08},{"wl":16.95,"c":0.03},
{"wl":17,"c":0.15},{"wl":17.05,"c":0.44},{"wl":17.1,"c":0.35},{"wl":17.15,"c":0.1},{"wl":17.2,"c":0.04},{"wl":17.25,"c":0.06},{"wl":17.3,"c":0.015},{"wl":17.35,"c":0.045},{"wl":17.4,"c":0.02},{"wl":17.45,"c":0.035},{"wl":17.5,"c":0.011},{"wl":17.55,"c":0.04},{"wl":17.6,"c":0.053},{"wl":17.65,"c":0.015},{"wl":17.7,"c":0.03},{"wl":17.75,"c":0.012},{"wl":17.8,"c":0.025},{"wl":17.85,"c":0.01},{"wl":17.9,"c":0.02},{"wl":17.95,"c":0.012},
{"wl":18,"c":0.018},{"wl":18.05,"c":0.01},{"wl":18.1,"c":0.016},{"wl":18.15,"c":0.01},{"wl":18.2,"c":0.013},{"wl":18.25,"c":0.01},{"wl":18.3,"c":0.012},{"wl":18.35,"c":0.01},
{"wl":8.325,"c":0.01},{"wl":8.375,"c":0.025},{"wl":8.425,"c":0.03},{"wl":8.475,"c":0.01},{"wl":8.525,"c":0.02},{"wl":8.575,"c":0.015},{"wl":8.625,"c":0.01},{"wl":8.675,"c":0.022},{"wl":8.725,"c":0.012},{"wl":8.775,"c":0.025},{"wl":8.825,"c":0.015},{"wl":8.875,"c":0.018},{"wl":8.925,"c":0.01},{"wl":8.975,"c":0.02},
{"wl":9.025,"c":0.01},{"wl":9.075,"c":0.03},{"wl":9.125,"c":0.02},{"wl":9.175,"c":0.04},{"wl":9.225,"c":0.012},{"wl":9.275,"c":0.03},{"wl":9.325,"c":0.04},{"wl":9.375,"c":0.02},{"wl":9.425,"c":0.01},{"wl":9.475,"c":0.028},{"wl":9.525,"c":0.015},{"wl":9.575,"c":0.02},{"wl":9.625,"c":0.01},{"wl":9.675,"c":0.03},{"wl":9.725,"c":0.02},{"wl":9.775,"c":0.04},{"wl":9.825,"c":0.01},{"wl":9.875,"c":0.03},{"wl":9.925,"c":0.012},{"wl":9.975,"c":0.025},
{"wl":10.025,"c":0.02},{"wl":10.075,"c":0.03},{"wl":10.125,"c":0.01},{"wl":10.175,"c":0.035},{"wl":10.225,"c":0.02},{"wl":10.275,"c":0.028},{"wl":10.325,"c":0.012},{"wl":10.375,"c":0.04},{"wl":10.425,"c":0.025},{"wl":10.475,"c":0.03},{"wl":10.525,"c":0.01},{"wl":10.575,"c":0.035},{"wl":10.625,"c":0.02},{"wl":10.675,"c":0.03},{"wl":10.725,"c":0.012},{"wl":10.775,"c":0.045},{"wl":10.825,"c":0.02},{"wl":10.875,"c":0.035},{"wl":10.925,"c":0.015},{"wl":10.975,"c":0.04},
{"wl":11.025,"c":0.035},{"wl":11.075,"c":0.012},{"wl":11.125,"c":0.04},{"wl":11.175,"c":0.015},{"wl":11.225,"c":0.03},{"wl":11.275,"c":0.04},{"wl":11.325,"c":0.015},{"wl":11.375,"c":0.05},{"wl":11.425,"c":0.03},{"wl":11.475,"c":0.04},{"wl":11.525,"c":0.025},{"wl":11.575,"c":0.035},{"wl":11.625,"c":0.012},{"wl":11.675,"c":0.045},{"wl":11.725,"c":0.03},{"wl":11.775,"c":0.04},{"wl":11.825,"c":0.015},{"wl":11.875,"c":0.045},{"wl":11.925,"c":0.02},{"wl":11.975,"c":0.05},
{"wl":12.025,"c":0.02},{"wl":12.075,"c":0.06},{"wl":12.125,"c":0.2},{"wl":12.175,"c":0.1},{"wl":12.225,"c":0.08},{"wl":12.275,"c":0.03},{"wl":12.325,"c":0.1},{"wl":12.375,"c":0.05},{"wl":12.425,"c":0.06},{"wl":12.475,"c":0.02},{"wl":12.525,"c":0.06},{"wl":12.575,"c":0.03},{"wl":12.625,"c":0.04},{"wl":12.675,"c":0.02},{"wl":12.725,"c":0.05},{"wl":12.775,"c":0.04},{"wl":12.825,"c":0.07},{"wl":12.875,"c":0.03},{"wl":12.925,"c":0.05},{"wl":12.975,"c":0.04},
{"wl":13.025,"c":0.03},{"wl":13.075,"c":0.06},{"wl":13.125,"c":0.025},{"wl":13.175,"c":0.05},{"wl":13.225,"c":0.06},{"wl":13.275,"c":0.03},{"wl":13.325,"c":0.07},{"wl":13.375,"c":0.06},{"wl":13.425,"c":0.08},{"wl":13.475,"c":0.1},{"wl":13.525,"c":0.07},{"wl":13.575,"c":0.15},{"wl":13.625,"c":0.07},{"wl":13.675,"c":0.08},{"wl":13.725,"c":0.04},{"wl":13.775,"c":0.09},{"wl":13.825,"c":0.07},{"wl":13.875,"c":0.06},{"wl":13.925,"c":0.05},{"wl":13.975,"c":0.1},
{"wl":14.025,"c":0.04},{"wl":14.075,"c":0.07},{"wl":14.125,"c":0.06},{"wl":14.175,"c":0.2},{"wl":14.225,"c":0.18},{"wl":14.275,"c":0.05},{"wl":14.325,"c":0.06},{"wl":14.375,"c":0.1},{"wl":14.425,"c":0.03},{"wl":14.475,"c":0.07},{"wl":14.525,"c":0.04},{"wl":14.575,"c":0.05},{"wl":14.625,"c":0.09},{"wl":14.675,"c":0.04},{"wl":14.725,"c":0.05},{"wl":14.775,"c":0.09},{"wl":14.825,"c":0.04},{"wl":14.875,"c":0.1},{"wl":14.925,"c":0.28},{"wl":14.975,"c":0.45},
{"wl":15.025,"c":0.4},{"wl":15.075,"c":0.18},{"wl":15.125,"c":0.1},{"wl":15.175,"c":0.14},{"wl":15.225,"c":0.2},{"wl":15.275,"c":0.15},{"wl":15.325,"c":0.05},{"wl":15.375,"c":0.07},{"wl":15.425,"c":0.06},{"wl":15.475,"c":0.035},{"wl":15.525,"c":0.04},{"wl":15.575,"c":0.02},{"wl":15.625,"c":0.03},{"wl":15.675,"c":0.05},{"wl":15.725,"c":0.05},{"wl":15.775,"c":0.06},{"wl":15.825,"c":0.07},{"wl":15.875,"c":0.09},{"wl":15.925,"c":0.06},{"wl":15.975,"c":0.15},
{"wl":16.025,"c":0.2},{"wl":16.075,"c":0.1},{"wl":16.125,"c":0.04},{"wl":16.175,"c":0.05},{"wl":16.225,"c":0.04},{"wl":16.275,"c":0.02},{"wl":16.325,"c":0.03},{"wl":16.375,"c":0.015},{"wl":16.425,"c":0.03},{"wl":16.475,"c":0.02},{"wl":16.525,"c":0.05},{"wl":16.575,"c":0.03},{"wl":16.625,"c":0.07},{"wl":16.675,"c":0.1},{"wl":16.725,"c":0.2},{"wl":16.775,"c":0.18},{"wl":16.825,"c":0.06},{"wl":16.875,"c":0.05},{"wl":16.925,"c":0.04},{"wl":16.975,"c":0.06},
{"wl":17.025,"c":0.3},{"wl":17.075,"c":0.4},{"wl":17.125,"c":0.2},{"wl":17.175,"c":0.06},{"wl":17.225,"c":0.03},{"wl":17.275,"c":0.03},{"wl":17.325,"c":0.03},{"wl":17.375,"c":0.025},{"wl":17.425,"c":0.015},{"wl":17.475,"c":0.02},{"wl":17.525,"c":0.025},{"wl":17.575,"c":0.02},{"wl":17.625,"c":0.03},{"wl":17.675,"c":0.02},{"wl":17.725,"c":0.02},{"wl":17.775,"c":0.015},{"wl":17.825,"c":0.015},{"wl":17.875,"c":0.012},{"wl":17.925,"c":0.01},{"wl":17.975,"c":0.015}
],
"lab1": [{"label": "m\u2009 =\u2009 −1"}],
"lab2": [{"label": "m\u2009 =\u2009 −2"}]
},
"spacing": 0,
"bounds": "flush",
"vconcat": [
{
  "width": 717, "height": 143,
  "layer": [
    {
      "data": {"name": "m1"},
      "mark": {"type": "line", "color": "#0000ff", "strokeWidth": 1, "clip": true},
      "encoding": {
        "x": {"field": "wl", "type": "quantitative", "scale": {"domain": [5, 36], "nice": false, "zero": false},
              "axis": {"orient": "bottom", "labels": false, "title": null, "values": [11.2, 17.4, 23.6, 29.8], "tickSize": -3}},
        "y": {"field": "c", "type": "quantitative", "scale": {"type": "log", "domain": [0.01, 1.58], "nice": false},
              "axis": {"orient": "left", "title": "counts/s/Å", "titleAngle": -90, "titleX": -61, "titleY": 72, "titleAlign": "center", "titleBaseline": "middle",
                       "values": [0.01,0.02,0.03,0.04,0.05,0.06,0.07,0.08,0.09,0.1,0.2,0.3,0.4,0.5,0.6,0.7,0.8,0.9,1],
                       "labelExpr": "datum.value == 1 ? '1.00' : datum.value == 0.1 ? '0.10' : datum.value == 0.01 ? '0.01' : ''",
                       "labelBaseline": {"condition": {"test": "datum.value == 0.01", "value": "alphabetic"}, "value": "middle"},
                       "tickSize": {"condition": {"test": "datum.value == 1 || datum.value == 0.1 || datum.value == 0.01", "value": -14}, "value": -7},
                       "labelPadding": 20}}
      }
    },
    {
      "data": {"name": "lab1"},
      "mark": {"type": "text", "fontSize": 23, "color": "#333", "font": "DejaVu Sans", "align": "center", "baseline": "middle"},
      "encoding": {
        "text": {"field": "label"},
        "x": {"datum": 27.25, "type": "quantitative", "axis": {"orient": "top", "labels": false, "title": null, "values": [11.2, 17.4, 23.6, 29.8], "tickSize": -3}},
        "y": {"datum": 0.93, "type": "quantitative",
              "axis": {"orient": "right", "labels": false, "title": null,
                       "values": [0.01,0.02,0.03,0.04,0.05,0.06,0.07,0.08,0.09,0.1,0.2,0.3,0.4,0.5,0.6,0.7,0.8,0.9,1],
                       "tickSize": {"condition": {"test": "datum.value == 1 || datum.value == 0.1 || datum.value == 0.01", "value": -15}, "value": -8}}}
      }
    }
  ],
  "resolve": {"axis": {"x": "independent", "y": "independent"}}
},
{
  "width": 717, "height": 144,
  "layer": [
    {
      "data": {"name": "m2"},
      "mark": {"type": "line", "color": "#ff0000", "strokeWidth": 1, "clip": true},
      "encoding": {
        "x": {"field": "wl", "type": "quantitative", "scale": {"domain": [5, 36], "nice": false, "zero": false},
              "axis": {"orient": "bottom", "title": "wavelength [Å]", "titleY": 40, "titleBaseline": "middle", "titleAlign": "center",
                       "values": [5,6,7,8,9,10,11,12,13,14,15,16,17,18,19,20,21,22,23,24,25,26,27,28,29,30,31,32,33,34,35,36],
                       "labelExpr": "datum.value % 5 == 0 ? datum.label : ''",
                       "tickSize": {"condition": {"test": "datum.value % 5 == 0", "value": -5}, "value": -2.5},
                       "labelPadding": 18}},
        "y": {"field": "c", "type": "quantitative", "scale": {"type": "log", "domain": [0.01, 1.58], "nice": false},
              "axis": {"orient": "left", "title": "counts/s/Å", "titleAngle": -90, "titleX": -61, "titleY": 72, "titleAlign": "center", "titleBaseline": "middle",
                       "values": [0.01,0.02,0.03,0.04,0.05,0.06,0.07,0.08,0.09,0.1,0.2,0.3,0.4,0.5,0.6,0.7,0.8,0.9,1],
                       "labelExpr": "datum.value == 1 ? '1.00' : datum.value == 0.1 ? '0.10' : datum.value == 0.01 ? '0.01' : ''",
                       "labelBaseline": {"condition": {"test": "datum.value == 0.01", "value": "alphabetic"}, "value": "middle"},
                       "tickSize": {"condition": {"test": "datum.value == 1 || datum.value == 0.1 || datum.value == 0.01", "value": -14}, "value": -7},
                       "labelPadding": 20}}
      }
    },
    {
      "data": {"name": "lab2"},
      "mark": {"type": "text", "fontSize": 23, "color": "#333", "font": "DejaVu Sans", "align": "center", "baseline": "middle"},
      "encoding": {
        "text": {"field": "label"},
        "x": {"datum": 27.25, "type": "quantitative", "axis": null},
        "y": {"datum": 1.0, "type": "quantitative",
              "axis": {"orient": "right", "labels": false, "title": null,
                       "values": [0.01,0.02,0.03,0.04,0.05,0.06,0.07,0.08,0.09,0.1,0.2,0.3,0.4,0.5,0.6,0.7,0.8,0.9,1],
                       "tickSize": {"condition": {"test": "datum.value == 1 || datum.value == 0.1 || datum.value == 0.01", "value": -15}, "value": -8}}}
      }
    }
  ],
  "resolve": {"axis": {"x": "independent", "y": "independent"}}
}
]
}
